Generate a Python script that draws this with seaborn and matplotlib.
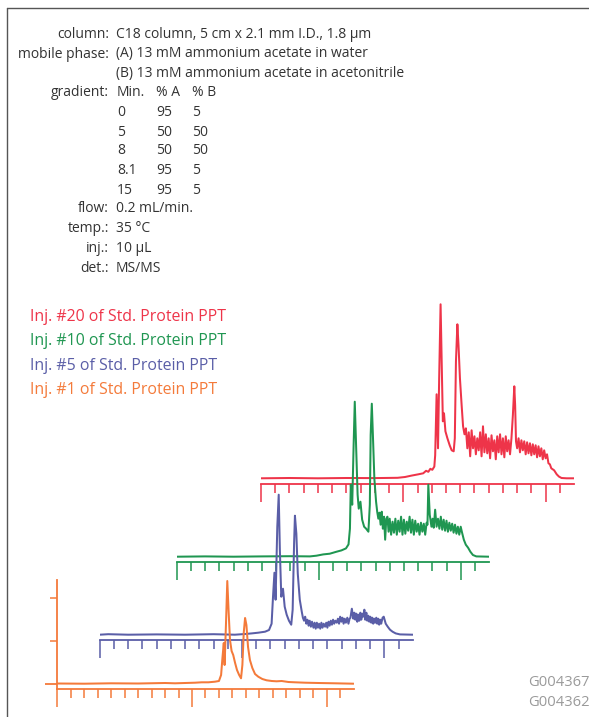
import numpy as np
import pandas as pd
import matplotlib
matplotlib.use("Agg")
import matplotlib.pyplot as plt
from matplotlib.lines import Line2D
import seaborn as sns

# ---------------- data (time in min, relative intensity) ----------------
red_t = [0.0, 1.0, 2.0, 3.0, 4.0, 4.80, 5.06, 5.29, 5.53, 5.70, 5.80, 5.88, 5.95, 6.02, 6.09, 6.12,
         6.17, 6.22, 6.26, 6.31, 6.36, 6.39, 6.43, 6.48, 6.55, 6.63, 6.70, 6.77, 6.81, 6.85, 6.90,
         6.94, 6.99,
         7.05, 7.10, 7.15, 7.20, 7.25, 7.30, 7.35, 7.40, 7.45, 7.50, 7.55, 7.60, 7.65, 7.70, 7.75,
         7.80, 7.85, 7.90, 7.95, 8.00, 8.05, 8.10, 8.15, 8.20, 8.25, 8.30, 8.35, 8.40, 8.45, 8.50,
         8.55, 8.60, 8.65, 8.70, 8.75, 8.80, 8.85, 8.90, 8.93, 8.96, 9.00, 9.05, 9.10, 9.15, 9.20,
         9.25, 9.30, 9.35, 9.40, 9.45, 9.50, 9.55, 9.60, 9.65, 9.70, 9.75, 9.80, 9.85, 9.90, 9.95,
         10.00, 10.05, 10.10, 10.15, 10.20, 10.25, 10.30, 10.39, 10.47, 10.56, 10.74, 11.0]
red_i = [0, 0.3, 0, 0.3, 0.2, 0.5, 1.3, 2.7, 4, 5, 7.5, 6.5, 9.5, 8.5, 11.7, 23,
         84, 30, 100, 174, 100, 57, 65, 47, 40, 33, 28, 27, 40, 117, 154,
         133, 100,
         73, 52, 44, 50, 30, 46, 22, 48, 30, 42, 24, 40, 28, 46, 22,
         52, 26, 44, 25, 40, 20, 43, 27, 38, 19, 42, 26, 44, 24, 40,
         21, 42, 27, 38, 24, 40, 63, 92, 73, 37, 30, 40, 26, 38, 28,
         37, 24, 36, 25, 35, 23, 34, 24, 33, 21, 32, 22, 30, 19, 28,
         20, 24, 15, 14, 10, 9, 8, 4, 1.7, 0.3, 0, 0]

green_t = [0.0, 1.0, 2.0, 3.0, 4.0, 4.69, 4.92, 5.16, 5.39, 5.63, 5.80, 5.96, 6.05, 6.10, 6.13,
           6.18, 6.23, 6.27, 6.32, 6.37, 6.41, 6.47, 6.53, 6.60, 6.67, 6.75, 6.80, 6.83, 6.87,
           6.92, 6.96, 7.02,
           7.06, 7.10, 7.14, 7.18, 7.22, 7.26, 7.30, 7.34, 7.38, 7.42, 7.46, 7.50, 7.55, 7.60,
           7.65, 7.70, 7.75, 7.80, 7.85, 7.90, 7.95, 8.00, 8.05, 8.10, 8.15, 8.20, 8.25, 8.30,
           8.35, 8.40, 8.45, 8.50, 8.55, 8.60, 8.65, 8.70, 8.75, 8.80, 8.83, 8.86, 8.91, 8.97,
           9.01, 9.05, 9.10, 9.15, 9.20, 9.25, 9.30, 9.35, 9.40, 9.45, 9.50, 9.55, 9.60, 9.65,
           9.70, 9.75, 9.80, 9.85, 9.90, 9.95, 10.00, 10.04, 10.11, 10.18, 10.26, 10.34, 10.43,
           10.55, 11.0]
green_i = [0, 0.3, 0, 0.3, 0.5, 0.3, 1, 2.3, 3, 5, 6.3, 8.3, 12.3, 28, 72,
           52, 112, 155, 108, 62, 48, 55, 37, 30, 28, 25, 52, 122, 153,
           112, 78, 55,
           45, 38, 44, 32, 45, 28, 40, 17, 38, 40, 25, 38, 22, 35,
           24, 38, 22, 36, 25, 40, 22, 37, 23, 35, 26, 40, 24, 37,
           22, 36, 25, 33, 22, 34, 25, 33, 22, 34, 32, 72, 42, 30,
           38, 29, 47, 30, 38, 28, 40, 27, 37, 26, 36, 25, 34, 26,
           33, 24, 32, 23, 30, 22, 30, 25, 17, 12, 9, 5, 1.7,
           0.3, 0]

blue_t = [0.0, 0.3, 1.0, 2.0, 3.0, 4.0, 4.75, 5.11, 5.34, 5.57, 5.81, 5.95, 6.04, 6.09, 6.14,
          6.18, 6.24, 6.29, 6.33, 6.38, 6.44, 6.50, 6.57, 6.65, 6.73, 6.78, 6.83, 6.86, 6.91,
          6.96, 7.03, 7.10, 7.14, 7.18, 7.22, 7.26, 7.30, 7.34, 7.38, 7.42, 7.46, 7.51, 7.55,
          7.59, 7.63, 7.67, 7.71, 7.75, 7.79, 7.83, 7.87, 7.92, 7.96, 8.00, 8.04, 8.08, 8.12,
          8.16, 8.20, 8.24, 8.28, 8.33, 8.37, 8.41, 8.45, 8.49, 8.53, 8.57, 8.61, 8.65, 8.70,
          8.74, 8.78, 8.81, 8.86, 8.91, 8.95, 8.98, 9.02, 9.05, 9.09, 9.12, 9.16, 9.19, 9.23,
          9.26, 9.30, 9.33, 9.37, 9.40, 9.44, 9.47, 9.51, 9.54, 9.58, 9.61, 9.65, 9.68, 9.72,
          9.75, 9.79, 9.82, 9.86, 9.89, 9.94, 9.98, 10.05, 10.12, 10.20, 10.29, 10.40, 10.55,
          11.0]
blue_i = [0, 0.5, 0, 0.3, 0, 0.5, 0, 0.7, 1.3, 2, 3, 4.7, 11, 38, 62,
          35, 108, 140, 85, 38, 46, 28, 20, 14, 10, 25, 91, 119, 101,
          61, 35, 23, 17, 14, 18, 11, 15, 9, 14, 8, 13, 7, 12,
          6, 12, 7, 11, 6, 12, 7, 11, 8, 12, 7, 13, 9, 14,
          10, 15, 11, 14, 12, 16, 11, 18, 13, 17, 11, 16, 12, 17,
          11, 16, 17, 26, 16, 22, 15, 21, 13, 20, 14, 22, 15, 21,
          18, 25, 15, 22, 14, 19, 13, 18, 12, 17, 11, 16, 12, 17,
          11, 16, 10, 15, 11, 17, 18, 11, 8, 5, 3, 1.3, 0.3,
          0]

orange_t = [0.0, 1.0, 2.0, 3.0, 4.0, 4.37, 4.74, 5.11, 5.36, 5.61, 5.85, 6.00, 6.08, 6.13, 6.18,
            6.21, 6.26, 6.31, 6.36, 6.41, 6.47, 6.53, 6.60, 6.67, 6.75, 6.82, 6.87, 6.92, 6.97,
            7.02, 7.08, 7.15, 7.24, 7.34, 7.46, 7.61, 7.77, 7.96, 8.14, 8.33, 8.58, 8.82, 9.20,
            9.69, 10.31, 11.0]
orange_i = [0.5, 0.3, 0.7, 0.5, 1.0, 0.7, 1, 1.3, 1.7, 1.7, 2.3, 3, 9, 26, 41,
            19, 59, 103, 72, 44, 33, 29, 21, 14, 9, 5.7, 19, 51, 66,
            59, 37, 24, 16, 10, 7.3, 5, 3.7, 3, 2.7, 3, 2, 1.7, 1.3,
            1, 0.7, 0.3]

labels = ["Inj. #20 of Std. Protein PPT", "Inj. #10 of Std. Protein PPT",
          "Inj. #5 of Std. Protein PPT", "Inj. #1 of Std. Protein PPT"]

cond_labels = ["column:", "mobile phase:", "", "gradient:", "", "", "", "", "",
               "flow:", "temp.:", "inj.:", "det.:"]
cond_values = ["C18 column, 5 cm x 2.1 mm I.D., 1.8 µm",
               "(A) 13 mM ammonium acetate in water",
               "(B) 13 mM ammonium acetate in acetonitrile"]
grad_header = ["Min.", "% A", "% B"]
grad_min = ["0", "5", "8", "8.1", "15"]
grad_a = ["95", "50", "50", "95", "95"]
grad_b = ["5", "50", "50", "5", "5"]
other_values = ["0.2 mL/min.", "35 °C", "10 µL", "MS/MS"]
codes = ["G004367", "G004362"]

# ---------------- style ----------------
sns.set_theme(style="white")
plt.rcParams['font.family'] = ['Open Sans', 'DejaVu Sans']

W, H = 589, 717
fig = plt.figure(figsize=(W / 100, H / 100), dpi=100)

RED, GREEN, BLUE, ORANGE = "#EE3449", "#1F9651", "#5A5EA7", "#F47A3A"
TXT = "#333333"

# frame
fig.add_artist(Line2D([7.3 / W, 7.3 / W], [0, 1 - 8.3 / H], transform=fig.transFigure,
                      color="#555555", lw=1.0))
fig.add_artist(Line2D([7.3 / W, 1.0], [1 - 8.3 / H, 1 - 8.3 / H], transform=fig.transFigure,
                      color="#555555", lw=1.0))

# header text
fs = 10.0
rows_y = [34, 54, 73, 92, 112, 132, 151, 171, 190, 209, 229, 248, 268]
lab_x, val_x = 109, 116
for lab, yy in zip(cond_labels, rows_y):
    if lab:
        fig.text(lab_x / W, 1 - yy / H, lab, ha="right", va="center", fontsize=fs, color=TXT)
for v, yy in zip(cond_values, rows_y[:3]):
    fig.text(val_x / W, 1 - yy / H, v, ha="left", va="center", fontsize=fs, color=TXT)
col_x = [117, 156, 192.5]
for hdr, cx in zip(grad_header, col_x):
    fig.text(cx / W, 1 - rows_y[3] / H, hdr, ha="left", va="center", fontsize=fs, color=TXT)
for k in range(5):
    yy = rows_y[4 + k]
    for val, cx in zip([grad_min[k], grad_a[k], grad_b[k]], col_x):
        fig.text(cx / W, 1 - yy / H, val, ha="left", va="center", fontsize=fs, color=TXT)
for v, yy in zip(other_values, rows_y[9:]):
    fig.text(val_x / W, 1 - yy / H, v, ha="left", va="center", fontsize=fs, color=TXT)

# legend text
leg_y = [317, 341, 366, 390]
for lab, yy, c in zip(labels, leg_y, [RED, GREEN, BLUE, ORANGE]):
    fig.text(30 / W, 1 - yy / H, lab, ha="left", va="center", fontsize=11.4, color=c)

# code labels
for code, yy in zip(codes, [683, 703]):
    fig.text(528 / W, 1 - yy / H, code, ha="left", va="center", fontsize=10.6, color="#9a9a9a")


def trace_axes(x0, axis_y, ppm, gap, top, t, inten, color, yaxis=False):
    width = 11 * ppm
    ax = fig.add_axes([x0 / W, 1 - axis_y / H, width / W, (gap + top) / H])
    ax.set_facecolor("none")
    df = pd.DataFrame({"time": t, "intensity": inten})
    sns.lineplot(data=df, x="time", y="intensity", ax=ax, color=color, linewidth=1.45,
                 estimator=None, sort=False)
    ax.set_xlim(0, 11)
    ax.set_ylim(-gap, top)
    for s in ["top", "right", "left"]:
        ax.spines[s].set_visible(False)
    ax.spines["bottom"].set_color(color)
    ax.spines["bottom"].set_linewidth(1.3)
    ax.set_xticks([0, 5, 10])
    ax.set_xticks(np.arange(0, 11, 0.5), minor=True)
    ax.tick_params(axis="x", which="major", direction="out", length=13, width=1.1,
                   color=color, labelbottom=False, bottom=True)
    ax.tick_params(axis="x", which="minor", direction="out", length=6.8, width=1.1,
                   color=color, bottom=True)
    ax.set_xlabel("")
    ax.set_ylabel("")
    if yaxis:
        ax.spines["left"].set_visible(True)
        ax.spines["left"].set_color(color)
        ax.spines["left"].set_linewidth(1.3)
        ax.spines["left"].set_bounds(-gap, 104)
        ax.set_yticks([0])
        ax.set_yticks([43, 86], minor=True)
        ax.tick_params(axis="y", which="major", direction="out", length=8.9, width=1.3,
                       color=color, labelleft=False, left=True)
        ax.tick_params(axis="y", which="minor", direction="out", length=4.8, width=1.1,
                       color=color, left=True)
    else:
        ax.set_yticks([])
    ax.grid(False)
    return ax


trace_axes(261.0, 483.7, 28.46, 5.4, 185, red_t, red_i, RED)
trace_axes(176.7, 561.7, 28.40, 5.0, 185, green_t, green_i, GREEN)
trace_axes(99.7, 639.7, 28.46, 5.0, 160, blue_t, blue_i, BLUE)
trace_axes(57.3, 689.3, 26.94, 5.3, 110, orange_t, orange_i, ORANGE, yaxis=True)

fig.savefig("out.png", dpi=100)
